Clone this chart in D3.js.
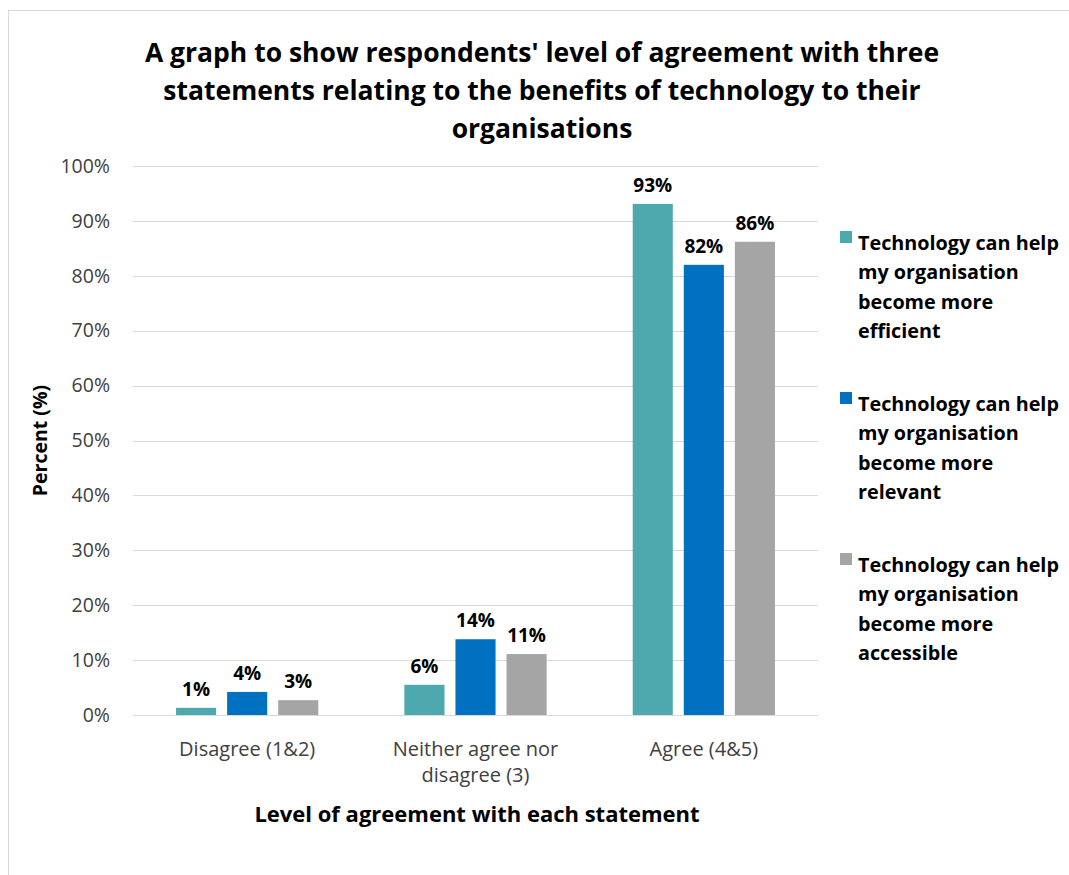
<!DOCTYPE html>
<html>
<head>
<meta charset="utf-8">
<script src="https://cdn.jsdelivr.net/npm/d3@7"></script>
<style>
  html, body { margin: 0; padding: 0; background: #fff; }
  svg { display: block; font-family: "Open Sans", "Noto Sans", sans-serif; }
</style>
</head>
<body>
<svg id="chart" width="1069" height="875"></svg>
<script>
// Survey categories (x axis groups)
const categories = ["Disagree (1&2)", "Neither agree nor disagree (3)", "Agree (4&5)"];
const categoryLines = [["Disagree (1&2)"], ["Neither agree nor", "disagree (3)"], ["Agree (4&5)"]];

// One series per statement, percent of respondents per category
const seriesNames = [
  "Technology can help my organisation become more efficient",
  "Technology can help my organisation become more relevant",
  "Technology can help my organisation become more accessible"
];
const seriesLegendLines = [
  ["Technology can help", "my organisation", "become more", "efficient"],
  ["Technology can help", "my organisation", "become more", "relevant"],
  ["Technology can help", "my organisation", "become more", "accessible"]
];
const efficient  = [1.3, 5.5, 93.1];
const relevant   = [4.2, 13.8, 82.0];
const accessible = [2.7, 11.1, 86.2];
const seriesValues = [efficient, relevant, accessible];
const seriesColors = ["#4EA9AE", "#0070C0", "#A5A5A5"];

const yTicks = [0, 10, 20, 30, 40, 50, 60, 70, 80, 90, 100];

const titleLines = [
  "A graph to show respondents' level of agreement with three",
  "statements relating to the benefits of technology to their",
  "organisations"
];
const yTitle = "Percent (%)";
const xTitle = "Level of agreement with each statement";

const svg = d3.select("#chart");

// chart frame
svg.append("rect")
  .attr("x", 8.5).attr("y", 10.5)
  .attr("width", 1100).attr("height", 900)
  .attr("fill", "#fff").attr("stroke", "#d9d9d9").attr("stroke-width", 1);

const plot = { left: 133, right: 818, top: 166, bottom: 715 };

const x0 = d3.scaleBand()
  .domain(categories)
  .range([plot.left, plot.right])
  .paddingInner(0.377)
  .paddingOuter(0.1885);

const x1 = d3.scaleBand()
  .domain(d3.range(seriesNames.length))
  .range([0, x0.bandwidth()])
  .paddingInner(0.215);

const y = d3.scaleLinear().domain([0, 100]).range([plot.bottom, plot.top]);

// gridlines
svg.append("g")
  .selectAll("line")
  .data(yTicks)
  .join("line")
  .attr("x1", plot.left).attr("x2", plot.right)
  .attr("y1", d => Math.round(y(d)) + 0.5).attr("y2", d => Math.round(y(d)) + 0.5)
  .attr("stroke", "#d9d9d9").attr("stroke-width", 1);

// y axis labels
const yAxis = d3.axisLeft(y).tickValues(yTicks).tickFormat(d => d + "%").tickSize(0).tickPadding(0);
const yg = svg.append("g").attr("transform", `translate(${plot.left - 23},0)`).call(yAxis);
yg.select(".domain").remove();
yg.selectAll("text")
  .attr("font-family", "'Open Sans', sans-serif")
  .attr("font-size", 19.5).attr("fill", "#404040");

// bars
const groups = svg.append("g")
  .selectAll("g")
  .data(categories)
  .join("g")
  .attr("transform", d => `translate(${x0(d)},0)`);

groups.selectAll("rect")
  .data((d, i) => seriesValues.map((vals, s) => ({ s, v: vals[i] })))
  .join("rect")
  .attr("x", d => x1(d.s))
  .attr("width", x1.bandwidth())
  .attr("y", d => y(d.v))
  .attr("height", d => y(0) - y(d.v))
  .attr("fill", d => seriesColors[d.s]);

// data labels
groups.selectAll("text")
  .data((d, i) => seriesValues.map((vals, s) => ({ s, v: vals[i] })))
  .join("text")
  .attr("x", d => x1(d.s) + x1.bandwidth() / 2)
  .attr("y", d => y(d.v) - 12)
  .attr("text-anchor", "middle")
  .attr("font-size", 19).attr("font-weight", 700).attr("fill", "#000")
  .text(d => Math.round(d.v) + "%");

// x axis category labels
const xl = svg.append("g");
categories.forEach((c, i) => {
  const t = xl.append("text")
    .attr("x", x0(c) + x0.bandwidth() / 2)
    .attr("y", 756)
    .attr("text-anchor", "middle")
    .attr("font-size", 20).attr("fill", "#404040");
  categoryLines[i].forEach((ln, k) => {
    t.append("tspan").attr("x", x0(c) + x0.bandwidth() / 2).attr("dy", k === 0 ? 0 : 26).text(ln);
  });
});

// title
const tt = svg.append("text")
  .attr("text-anchor", "middle")
  .attr("font-size", 26.5).attr("font-weight", 700).attr("fill", "#000");
titleLines.forEach((ln, k) => {
  tt.append("tspan").attr("x", 542).attr("y", 62 + k * 38).text(ln);
});

// axis titles
svg.append("text")
  .attr("transform", `translate(47,${(plot.top + plot.bottom) / 2}) rotate(-90)`)
  .attr("text-anchor", "middle")
  .attr("font-size", 19.5).attr("font-weight", 700).attr("fill", "#000")
  .text(yTitle);

svg.append("text")
  .attr("x", 477).attr("y", 822)
  .attr("text-anchor", "middle")
  .attr("font-size", 22).attr("font-weight", 700).attr("fill", "#000")
  .text(xTitle);

// legend
const legend = svg.append("g");
seriesNames.forEach((name, s) => {
  const top = 243 + s * 161;
  legend.append("rect")
    .attr("x", 840).attr("y", top - 12)
    .attr("width", 12).attr("height", 12)
    .attr("fill", seriesColors[s]);
  const t = legend.append("text")
    .attr("font-size", 19.8).attr("font-weight", 700).attr("fill", "#000");
  seriesLegendLines[s].forEach((ln, k) => {
    t.append("tspan").attr("x", 858).attr("y", top + 7 + k * 29.3).text(ln);
  });
});
</script>
</body>
</html>
